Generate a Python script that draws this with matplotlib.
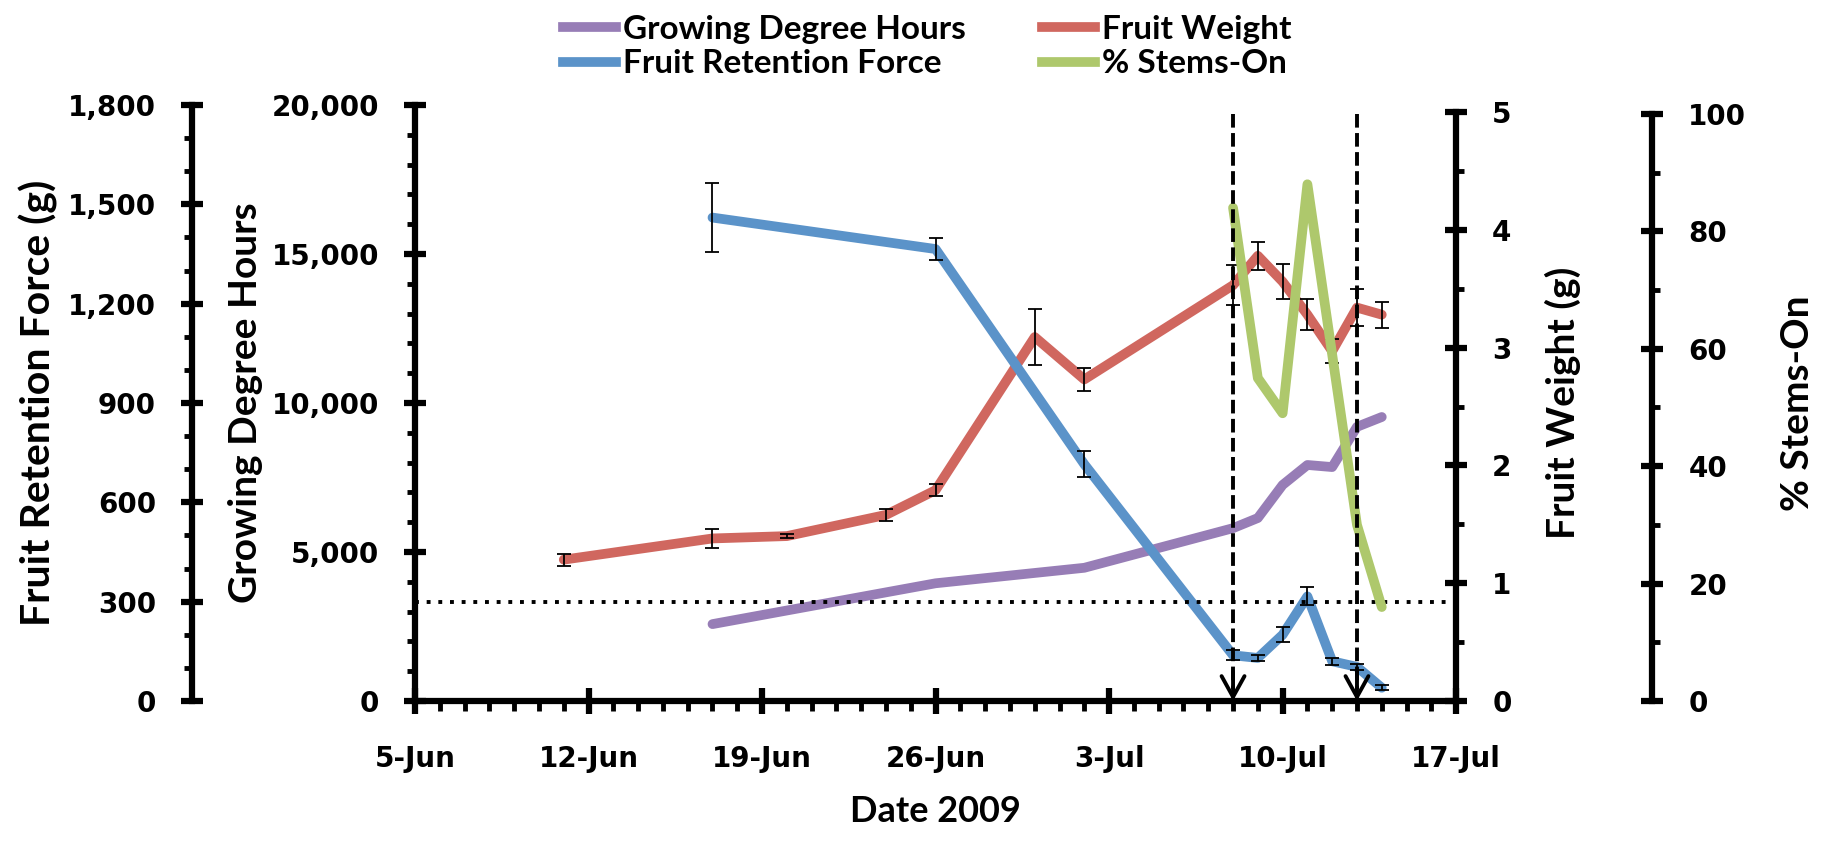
import matplotlib
matplotlib.use("Agg")
import matplotlib.pyplot as plt
import matplotlib.dates as mdates
from matplotlib.lines import Line2D
from matplotlib.ticker import FuncFormatter, MultipleLocator
from matplotlib.font_manager import FontProperties
import pandas as pd

# growing degree hours
gdh_dates = ["2009-06-17", "2009-06-26", "2009-07-02", "2009-07-08", "2009-07-09",
             "2009-07-10", "2009-07-11", "2009-07-12", "2009-07-13", "2009-07-14"]
gdh = [2580, 3950, 4470, 5800, 6140, 7250, 7920, 7850, 9200, 9530]

# fruit retention force (g) +/- se
frf_dates = ["2009-06-17", "2009-06-26", "2009-07-02", "2009-07-08", "2009-07-09",
             "2009-07-10", "2009-07-11", "2009-07-12", "2009-07-13", "2009-07-14"]
frf = [1460, 1365, 715, 138, 130, 200, 316, 120, 103, 40]
frf_err = [105, 33, 40, 15, 8, 22, 27, 10, 10, 8]

# fruit weight (g) +/- se
fw_dates = ["2009-06-11", "2009-06-17", "2009-06-20", "2009-06-24", "2009-06-26",
            "2009-06-30", "2009-07-02", "2009-07-08", "2009-07-09", "2009-07-10",
            "2009-07-11", "2009-07-12", "2009-07-13", "2009-07-14"]
fw = [1.20, 1.38, 1.40, 1.58, 1.79, 3.09, 2.73, 3.53, 3.78, 3.56, 3.28, 2.97, 3.34, 3.28]
fw_err = [0.05, 0.08, 0.02, 0.05, 0.05, 0.24, 0.10, 0.17, 0.12, 0.15, 0.13, 0.10, 0.16, 0.11]

# percent of fruit harvested with stems on
stems_dates = ["2009-07-08", "2009-07-09", "2009-07-10", "2009-07-11", "2009-07-13", "2009-07-14"]
stems = [84, 55, 49, 88, 30, 16]

# harvest dates marked with arrows
harvest_dates = ["2009-07-08", "2009-07-13"]
frf_threshold = 300

c_gdh = "#977DB6"
c_frf = "#5B93C9"
c_fw = "#D0675F"
c_st = "#AEC86C"

TICK_FONT = FontProperties(family="DejaVu Sans", weight="bold", size=20)
LAB_FONT = dict(family="Lato", weight="bold", size=28)

fig = plt.figure(figsize=(18.3, 8.6), dpi=100)
fig.patch.set_facecolor("white")
ax = fig.add_axes([0.2268, 0.1849, 0.5689, 0.6930])
ax_fw = ax.twinx()
ax_frf = ax.twinx()
ax_st = ax.twinx()

for i, a in enumerate([ax_fw, ax, ax_frf, ax_st]):
    a.set_zorder(i + 1)
    a.patch.set_visible(False)
    for s in a.spines.values():
        s.set_visible(False)
        s.set_linewidth(4.5)

d = lambda lst: pd.to_datetime(lst)
lw = 7
ax_fw.plot(d(fw_dates), fw, color=c_fw, lw=lw, solid_capstyle="round", solid_joinstyle="round")
ax_fw.errorbar(d(fw_dates), fw, yerr=fw_err, fmt="none", ecolor="black",
               elinewidth=1.3, capsize=5, capthick=1.3, zorder=5)
ax.plot(d(gdh_dates), gdh, color=c_gdh, lw=lw, solid_capstyle="round", solid_joinstyle="round")
ax_frf.plot(d(frf_dates), frf, color=c_frf, lw=lw, solid_capstyle="round", solid_joinstyle="round")
ax_frf.errorbar(d(frf_dates), frf, yerr=frf_err, fmt="none", ecolor="black",
                elinewidth=1.3, capsize=5, capthick=1.3, zorder=5)
ax_st.plot(d(stems_dates), stems, color=c_st, lw=lw, solid_capstyle="round", solid_joinstyle="round")

# threshold line and harvest arrows
ax_frf.axhline(frf_threshold, color="black", lw=2.8, ls=(0, (1, 2)))
trans = ax_st.get_xaxis_transform()
for hd in mdates.date2num(d(harvest_dates)):
    ax_st.plot([hd, hd], [0.985, 0.02], transform=trans, color="black", lw=2.8,
               ls=(0, (3.5, 1.4)), zorder=6)
    ax_st.annotate("", xy=(hd, 0.0), xycoords=trans, xytext=(hd, 0.05), textcoords=trans,
                   arrowprops=dict(arrowstyle="->,head_length=1.0,head_width=0.55",
                                   mutation_scale=15, lw=2.8, color="black",
                                   shrinkA=0, shrinkB=0), zorder=6)

# x axis
ax.set_xlim(pd.Timestamp("2009-06-05"), pd.Timestamp("2009-07-17"))
ax.set_xticks(pd.date_range("2009-06-05", "2009-07-17", freq="7D"))
ax.xaxis.set_minor_locator(mdates.DayLocator())
ax.xaxis.set_major_formatter(FuncFormatter(
    lambda v, p: "{}-{}".format(mdates.num2date(v).day, mdates.num2date(v).strftime("%b"))))
ax.spines["bottom"].set_visible(True)
ax.tick_params(axis="x", which="major", direction="inout", length=19, width=4.5, pad=22)
ax.tick_params(axis="x", which="minor", direction="out", length=7, width=3.5)
ax.set_xlabel("Date 2009", fontdict=dict(LAB_FONT, size=26), labelpad=16)


def style_y(a, side, lo, hi, major, minor, fmt, label, labelpad, size=28):
    a.spines[side].set_visible(True)
    a.set_ylim(lo, hi)
    a.yaxis.set_major_locator(MultipleLocator(major))
    a.yaxis.set_minor_locator(MultipleLocator(minor))
    a.yaxis.set_major_formatter(FuncFormatter(lambda v, p: fmt.format(v)))
    if side == "left":
        a.yaxis.set_ticks_position("left")
        a.yaxis.set_label_position("left")
    else:
        a.yaxis.set_ticks_position("right")
        a.yaxis.set_label_position("right")
    a.tick_params(axis="y", which="major", direction="inout", length=16, width=4.5, pad=18)
    a.tick_params(axis="y", which="minor", direction="out", length=6, width=3.5)
    a.set_ylabel(label, fontdict=dict(LAB_FONT, size=size), labelpad=labelpad)
    for t in a.get_yticklabels():
        t.set_fontproperties(TICK_FONT)


ax.spines["left"].set_visible(True)
style_y(ax, "left", 0, 20000, 5000, 1000, "{:,.0f}", "Growing Degree Hours", 6)

ax_frf.spines["left"].set_position(("axes", -0.2142))
style_y(ax_frf, "left", 0, 1800, 300, 100, "{:,.0f}", "Fruit Retention Force (g)", 7, size=29.5)

style_y(ax_fw, "right", 0, 5.06, 1, 0.5, "{:.0f}", "Fruit Weight (g)", 24)
ax_fw.spines["right"].set_bounds(0, 5)

ax_st.spines["right"].set_position(("axes", 1.1883))
style_y(ax_st, "right", 0, 101.5, 20, 10, "{:.0f}", "% Stems-On", 24)
ax_st.spines["right"].set_bounds(0, 100)

for t in ax.get_xticklabels():
    t.set_fontproperties(TICK_FONT)

handles = [Line2D([], [], color=c_gdh, lw=7), Line2D([], [], color=c_frf, lw=7),
           Line2D([], [], color=c_fw, lw=7), Line2D([], [], color=c_st, lw=7)]
labels = ["Growing Degree Hours", "Fruit Retention Force", "Fruit Weight", "% Stems-On"]
fig.legend(handles, labels, ncol=2, loc="upper left", bbox_to_anchor=(0.291, 1.018),
           frameon=False, handlelength=1.6, handletextpad=0.2, columnspacing=2.3,
           labelspacing=0.17, prop=dict(family="Lato", weight="bold", size=24))

fig.savefig("out.png", dpi=100, facecolor="white")
